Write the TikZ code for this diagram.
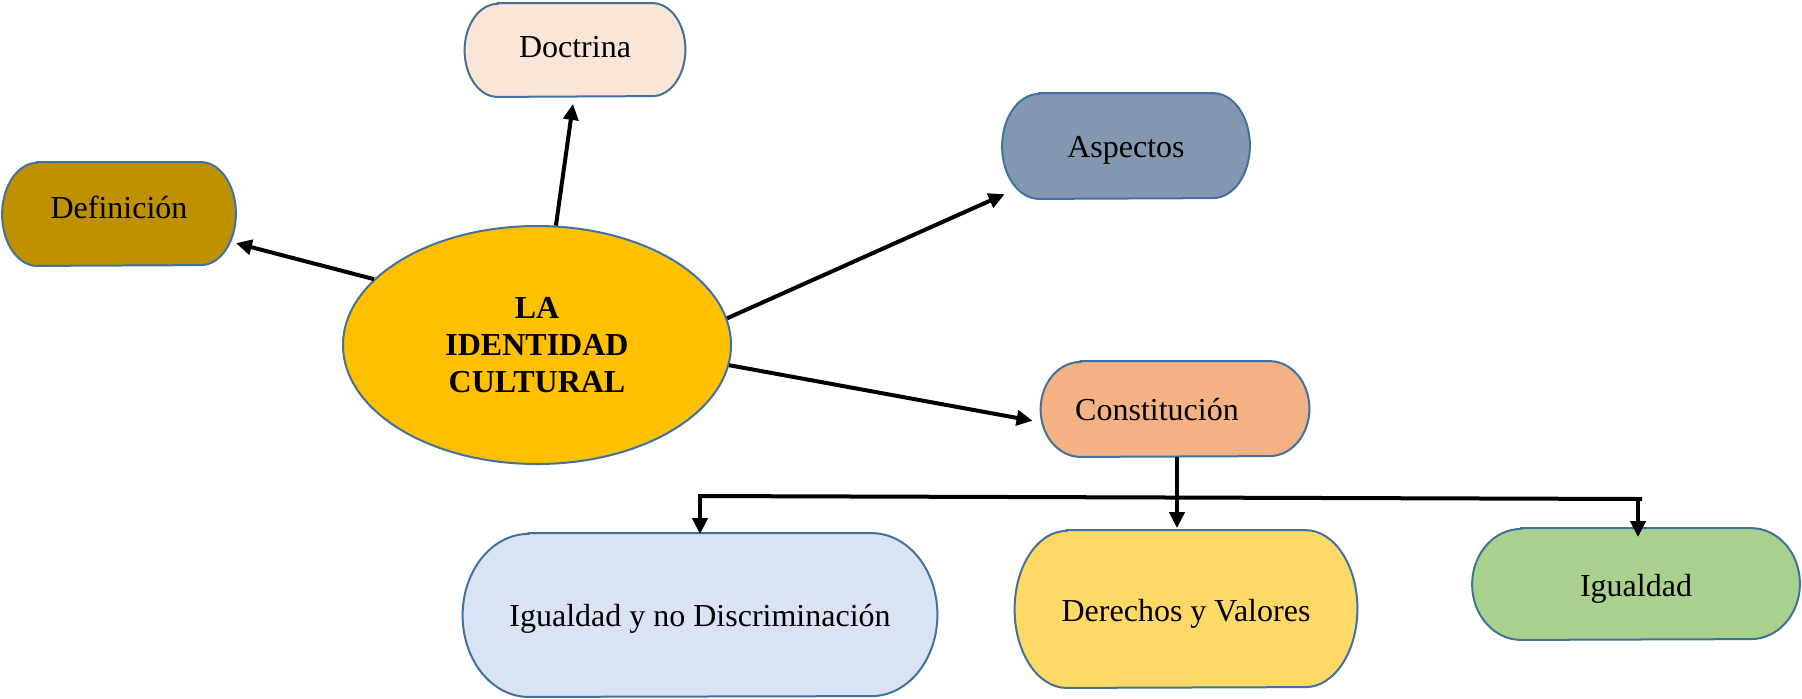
\documentclass[tikz,border=0pt]{standalone}
\usepackage{fontspec}
\setmainfont{Liberation Serif}
\usetikzlibrary{arrows.meta,shapes.geometric,backgrounds}
\definecolor{bord}{HTML}{41719C}
\definecolor{cdoc}{HTML}{FBE5D6}
\definecolor{cdef}{HTML}{BF9000}
\definecolor{casp}{HTML}{8497B0}
\definecolor{cell}{HTML}{FFC000}
\definecolor{ccon}{HTML}{F4B183}
\definecolor{cigd}{HTML}{DAE3F3}
\definecolor{cder}{HTML}{FFD966}
\definecolor{cig}{HTML}{A9D18E}
\newcommand\pillfill[4]{%
  \begin{pgfonlayer}{background}
    \draw[pillborder, fill=#2] ([xshift=#3]#1.north west) -- ([xshift=-#3]#1.north east)
      arc[start angle=90,end angle=-90,x radius=#3,y radius=#4]
      -- ([xshift=#3]#1.south west)
      arc[start angle=270,end angle=90,x radius=#3,y radius=#4] -- cycle;
  \end{pgfonlayer}}
\begin{document}
\begin{tikzpicture}[x=0.5pt,y=-0.5pt,
  box/.style={rectangle, draw=none, inner sep=0pt, text height=14pt, text depth=#1,
              font=\fontsize{16pt}{18.5pt}\selectfont},
  box/.default=2.4pt,
  pillborder/.style={draw=bord, line width=1pt},
  arr/.style={line width=2pt, -{Triangle[length=8pt,width=7.5pt]}},
  bar/.style={line width=2pt}
]
\begin{pgfonlayer}{background}
  \fill[white] (0,0) rectangle (1802,698);
\end{pgfonlayer}
\useasboundingbox (0,0) rectangle (1802,698);

% nodes
\node[box=6.2pt, minimum width=110pt, minimum height=46.5pt] (doc) at (575,50) {Doctrina};
\pillfill{doc}{cdoc}{16.5pt}{23.25pt}
\node[box=9.5pt, minimum width=116.5pt, minimum height=51.5pt] (def) at (119,214) {Definición};
\pillfill{def}{cdef}{17.5pt}{25.75pt}
\node[box=2.4pt, minimum width=123.5pt, minimum height=52.5pt] (asp) at (1126,146) {Aspectos};
\pillfill{asp}{casp}{18.5pt}{26.25pt}
\node[box=2.4pt, minimum width=134pt, minimum height=47.5pt] (con) at (1175,409) {Constitución\kern18pt};
\pillfill{con}{ccon}{20pt}{23.75pt}
\node[box=2.4pt, minimum width=237pt, minimum height=81.5pt] (igd) at (700,615) {Igualdad y no Discriminación};
\pillfill{igd}{cigd}{33pt}{40.75pt}
\node[box=1.6pt, minimum width=171pt, minimum height=78.5pt] (der) at (1186,609) {Derechos y Valores};
\pillfill{der}{cder}{26pt}{39.25pt}
\node[box=1.8pt, minimum width=163.5pt, minimum height=55.5pt] (ig) at (1636,584) {Igualdad};
\pillfill{ig}{cig}{24.5pt}{27.75pt}

\node[ellipse, draw=bord, line width=1pt, fill=cell, inner sep=0pt,
      minimum width=194pt, minimum height=119pt, align=center,
      font=\fontsize{16pt}{18.5pt}\selectfont\bfseries] (ell) at (537,345)
      {LA\\IDENTIDAD\\CULTURAL};

% connectors
\draw[arr] (ell.81) -- ([xshift=-1pt,yshift=-3.5pt]doc.south);
\draw[arr] (ell.158) -- (def.-14);
\draw[arr] (ell.8) -- ([xshift=1.25pt,yshift=-0.3pt]asp.201);
\draw[arr] (ell.-6) -- ([xshift=-4pt]con.185);

\coordinate (barL) at (698,496);
\coordinate (barR) at (1642,499);
\draw[bar] (barL) -- (barR);
\draw[arr] ([xshift=1pt]con.south) -- ([xshift=1pt,yshift=1pt]con.south |- der.north);
\draw[arr] ([xshift=1pt]barL) -- ([xshift=1pt,yshift=-0.5pt]barL |- igd.north);
\draw[arr] ([xshift=-2pt]barR) -- ([xshift=-2pt,yshift=-4.5pt]barR |- ig.north);
\end{tikzpicture}
\end{document}
